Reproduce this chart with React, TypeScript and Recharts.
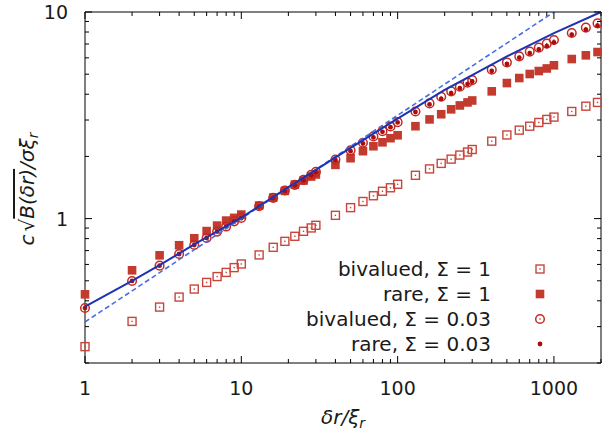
import React from "react";
import { ComposedChart, Scatter, XAxis, YAxis, ReferenceLine } from "recharts";

// separations dr/xi_r shared by all four data sets
const xValues = [
  1, 2, 3, 4, 5, 6, 7, 8, 9, 10, 13, 16, 19, 22, 25, 28, 30, 40, 50, 60, 70,
  80, 90, 100, 130, 160, 190, 220, 250, 280, 300, 400, 500, 600, 700, 800, 900,
  1000, 1300, 1600, 1900,
];

const bivaluedS1 = [
  0.24, 0.318, 0.373, 0.417, 0.456, 0.491, 0.524, 0.549, 0.579, 0.603, 0.667,
  0.726, 0.776, 0.821, 0.868, 0.901, 0.928, 1.037, 1.13, 1.21, 1.29, 1.356,
  1.41, 1.466, 1.62, 1.74, 1.85, 1.94, 2.03, 2.1, 2.16, 2.37, 2.54, 2.68, 2.8,
  2.92, 3.02, 3.1, 3.3, 3.5, 3.65,
];
const rareS1 = [
  0.43, 0.562, 0.664, 0.743, 0.803, 0.87, 0.925, 0.978, 1.008, 1.046, 1.156,
  1.264, 1.362, 1.46, 1.528, 1.598, 1.635, 1.82, 1.96, 2.12, 2.24, 2.34, 2.45,
  2.53, 2.8, 3.02, 3.2, 3.38, 3.53, 3.65, 3.73, 4.13, 4.53, 4.79, 5.01, 5.18,
  5.33, 5.52, 5.92, 6.17, 6.4,
];
const bivaluedS003 = [
  0.369, 0.499, 0.592, 0.674, 0.745, 0.806, 0.865, 0.915, 0.97, 1.008, 1.147,
  1.26, 1.367, 1.457, 1.54, 1.63, 1.683, 1.93, 2.14, 2.33, 2.5, 2.65, 2.79,
  2.93, 3.3, 3.61, 3.89, 4.13, 4.35, 4.55, 4.68, 5.26, 5.7, 6.1, 6.43, 6.72,
  7.03, 7.32, 7.91, 8.4, 8.81,
];
const rareS003 = [
  0.369, 0.499, 0.592, 0.674, 0.745, 0.806, 0.865, 0.915, 0.968, 1.005, 1.144,
  1.255, 1.36, 1.45, 1.53, 1.62, 1.675, 1.92, 2.12, 2.31, 2.47, 2.63, 2.77,
  2.92, 3.28, 3.57, 3.8, 4.05, 4.28, 4.48, 4.61, 5.18, 5.6, 6.01, 6.33, 6.59,
  6.84, 7.13, 7.77, 8.22, 8.59,
];

// theory curves
const curveX = [1, 2, 3, 5, 10, 20, 30, 50, 100, 200, 300, 500, 1000, 2000];
const curveY = [
  0.375, 0.5, 0.595, 0.75, 1.01, 1.42, 1.72, 2.2, 3.05, 4.2, 4.95, 6.1, 7.9, 10,
];
const powerX = [1, 1000];
const powerY = [0.316, 10];

const xMajor = [1, 10, 100, 1000];
const xTicks = [
  1, 2, 3, 4, 5, 6, 7, 8, 9, 10, 20, 30, 40, 50, 60, 70, 80, 90, 100, 200, 300,
  400, 500, 600, 700, 800, 900, 1000, 2000,
];
const yMajor = [1, 10];
const yTicks = [
  0.2, 0.3, 0.4, 0.5, 0.6, 0.7, 0.8, 0.9, 1, 2, 3, 4, 5, 6, 7, 8, 9, 10,
];

const legendLabels = [
  "bivalued, Σ = 1",
  "rare, Σ = 1",
  "bivalued, Σ = 0.03",
  "rare, Σ = 0.03",
];

const pairs = (xs: number[], ys: number[]) =>
  xs.map((x, i) => ({ x, y: ys[i] }));

const W = 602;
const H = 437;
const LEFT = 85;
const TOP = 12;
const RIGHT = 601;
const BOTTOM = 363;
const FONT = "'DejaVu Sans', sans-serif";
const INK = "#1a1a1a";

const C_OPEN_SQ = "#c9453b";
const C_FILL_SQ = "#c23b2e";
const C_CIRCLE = "#c22a20";
const C_DOT = "#ae0c0c";

const OpenSquare = ({ cx, cy }: any) => (
  <g>
    <rect x={cx - 4} y={cy - 4} width={8} height={8} fill="none" stroke={C_OPEN_SQ} strokeWidth={1.4} />
    <rect x={cx - 0.7} y={cy - 0.7} width={1.4} height={1.4} fill={C_OPEN_SQ} />
  </g>
);
const FilledSquare = ({ cx, cy }: any) => (
  <rect x={cx - 4.3} y={cy - 4.3} width={8.6} height={8.6} fill={C_FILL_SQ} />
);
const OpenCircle = ({ cx, cy }: any) => (
  <g>
    <circle cx={cx} cy={cy} r={4.3} fill="none" stroke={C_CIRCLE} strokeWidth={1.5} />
    <circle cx={cx} cy={cy} r={0.8} fill={C_CIRCLE} />
  </g>
);
const Dot = ({ cx, cy }: any) => <circle cx={cx} cy={cy} r={2.4} fill={C_DOT} />;

const markers = [OpenSquare, FilledSquare, OpenCircle, Dot];

const XTick = (props: any) => {
  const { x, payload } = props;
  const major = xMajor.includes(payload.value);
  const len = major ? 7 : 4;
  return (
    <g>
      <line x1={x} x2={x} y1={BOTTOM} y2={BOTTOM - len} stroke="#000" />
      <line x1={x} x2={x} y1={TOP} y2={TOP + len} stroke="#000" />
      {major && (
        <text x={x} y={395} textAnchor="middle" fontFamily={FONT} fontSize={19} fill={INK}>
          {payload.value}
        </text>
      )}
    </g>
  );
};

const YTick = (props: any) => {
  const { y, payload } = props;
  const major = yMajor.includes(payload.value);
  const len = major ? 7 : 4;
  return (
    <g>
      <line x1={LEFT} x2={LEFT + len} y1={y} y2={y} stroke="#000" />
      <line x1={RIGHT - len} x2={RIGHT} y1={y} y2={y} stroke="#000" />
      {major && (
        <text x={68} y={y + 7} textAnchor="end" fontFamily={FONT} fontSize={19} fill={INK}>
          {payload.value}
        </text>
      )}
    </g>
  );
};

const Empty = () => <g />;

export default function App() {
  return (
    <div style={{ position: "absolute", left: 0, top: 0, width: W, height: H, overflow: "hidden", background: "#fff" }}>
      <ComposedChart width={W} height={H} margin={{ top: TOP, right: W - RIGHT, bottom: 0, left: 0 }}>
        <XAxis
          type="number"
          dataKey="x"
          scale="log"
          domain={[1, 2000]}
          ticks={xTicks}
          interval={0}
          tick={XTick}
          tickLine={false}
          axisLine={{ stroke: "#000" }}
          height={H - BOTTOM}
        />
        <YAxis
          type="number"
          dataKey="y"
          scale="log"
          domain={[0.2, 10]}
          ticks={yTicks}
          interval={0}
          tick={YTick}
          tickLine={false}
          axisLine={{ stroke: "#000" }}
          width={LEFT}
        />
        <ReferenceLine y={10} stroke="#000" />
        <ReferenceLine x={2000} stroke="#000" />
        <Scatter data={pairs(xValues, bivaluedS1)} shape={(p: any) => <OpenSquare cx={p.cx} cy={p.cy} />} isAnimationActive={false} />
        <Scatter data={pairs(xValues, rareS1)} shape={(p: any) => <FilledSquare cx={p.cx} cy={p.cy} />} isAnimationActive={false} />
        <Scatter data={pairs(xValues, bivaluedS003)} shape={(p: any) => <OpenCircle cx={p.cx} cy={p.cy} />} isAnimationActive={false} />
        <Scatter data={pairs(xValues, rareS003)} shape={(p: any) => <Dot cx={p.cx} cy={p.cy} />} isAnimationActive={false} />
        <Scatter
          data={pairs(powerX, powerY)}
          line={{ stroke: "#4a6ee0", strokeWidth: 1.6, strokeDasharray: "5 3" }}
          lineType="joint"
          shape={Empty}
          fill="none"
          isAnimationActive={false}
        />
        <Scatter
          data={pairs(curveX, curveY)}
          line={{ stroke: "#1c33b3", strokeWidth: 2 }}
          lineType="joint"
          shape={Empty}
          fill="none"
          isAnimationActive={false}
        />
      </ComposedChart>
      <svg width={W} height={H} style={{ position: "absolute", left: 0, top: 0, pointerEvents: "none" }}>
        {legendLabels.map((label, i) => {
          const cy = 269 + i * 25;
          const M = markers[i];
          return (
            <g key={label}>
              <text x={491} y={cy + 7} textAnchor="end" fontFamily={FONT} fontSize={20} fill={INK}>
                {label}
              </text>
              <M cx={540} cy={cy} />
            </g>
          );
        })}
        <text x={343} y={424} textAnchor="middle" fontFamily={FONT} fontSize={20} fill={INK} fontStyle="italic">
          δr/ξ<tspan fontSize={14} dy={4}>r</tspan>
        </text>
        <text transform="translate(34,189) rotate(-90)" textAnchor="middle" fontFamily={FONT} fontSize={20} fill={INK}>
          <tspan fontStyle="italic">c</tspan>
          <tspan dx={3}>√</tspan>
          <tspan fontStyle="italic" textDecoration="overline">B(δr)</tspan>
          <tspan fontStyle="italic">/σξ</tspan>
          <tspan fontStyle="italic" fontSize={14} dy={4}>r</tspan>
        </text>
      </svg>
    </div>
  );
}
